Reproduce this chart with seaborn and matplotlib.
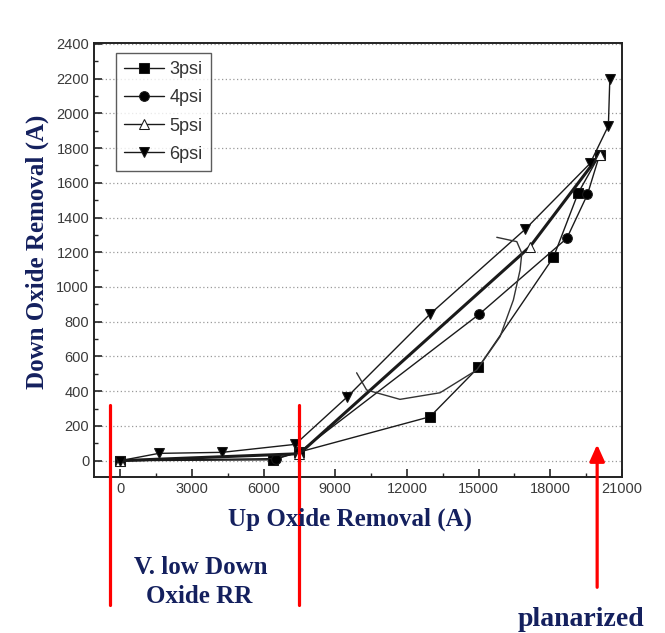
import numpy as np
import pandas as pd
import matplotlib
matplotlib.use("Agg")
import matplotlib.pyplot as plt
import seaborn as sns

# values (Angstrom)
x_3psi = [0, 6400, 7500, 12965, 14990, 18130, 19165, 20060]
y_3psi = [0, 5, 50, 253, 537, 1171, 1541, 1760]

x_4psi = [0, 6500, 7500, 15030, 18690, 19555, 20060]
y_4psi = [0, 12, 50, 844, 1280, 1533, 1760]

x_5psi = [0, 7500, 17150, 20060]
y_5psi = [0, 40, 1232, 1761]

x_6psi = [0, 1610, 4270, 7325, 9474, 12965, 16945, 19667, 20430, 20490]
y_6psi = [0, 42, 48, 94, 364, 844, 1332, 1712, 1928, 2197]

# hand drawn loop on the scan
loop_x = [9892, 10311, 11707, 13383, 14920, 15896, 16453, 16734, 16806, 16597, 15759]
loop_y = [506, 407, 353, 391, 522, 714, 925, 1098, 1194, 1261, 1286]

labels = ["3psi", "4psi", "5psi", "6psi"]
xticks = [0, 3000, 6000, 9000, 12000, 15000, 18000, 21000]
yticks = list(range(0, 2401, 200))

# red annotation marks (data coords, drawn outside axes)
red_x = [-410, 7475]
red_y = [320, -832]
arrow_x = 19960
arrow_y = [-745, 109]

navy = "#14205e"

sns.set_style("ticks")
plt.rcParams["font.family"] = ["Liberation Sans", "DejaVu Sans"]

fig = plt.figure(figsize=(6.65, 6.33), dpi=100)
ax = fig.add_axes([94 / 665, 1 - 477 / 633, (622 - 94) / 665, (477 - 42.6) / 633])

series = [
    (x_3psi, y_3psi, "s", "k", 1.0),
    (x_4psi, y_4psi, "o", "k", 1.0),
    (x_5psi, y_5psi, "^", "white", 2.2),
    (x_6psi, y_6psi, "v", "k", 1.0),
]
for (xs, ys, mk, fc, lw), lab in zip(series, labels):
    sns.lineplot(x=xs, y=ys, ax=ax, sort=False, estimator=None, color="#1a1a1a",
                 marker=mk, markersize=7, markerfacecolor=fc,
                 markeredgecolor="#1a1a1a", linewidth=lw, label=lab)

sns.lineplot(x=loop_x, y=loop_y, ax=ax, sort=False, estimator=None, color="#333333",
             linewidth=1.0, legend=False)

ax.set_xlim(-1100, 21000)
ax.set_ylim(-94, 2407)
ax.set_xticks(xticks)
ax.set_yticks(yticks)
ax.set_xticks([1500, 4500, 7500, 10500, 13500, 16500, 19500], minor=True)
ax.set_yticks(list(range(100, 2400, 200)), minor=True)
ax.tick_params(axis="both", which="major", direction="in", length=6, width=1.2,
               labelsize=10.5, labelcolor="#3a3a3a")
ax.tick_params(axis="both", which="minor", direction="in", length=3, width=1.0)
ax.grid(axis="y", which="major", linestyle=(0, (1, 2)), color="#9a9a9a", linewidth=0.9)
for sp in ax.spines.values():
    sp.set_visible(True)
    sp.set_linewidth(1.4)
    sp.set_color("#222222")
ax.set_xlabel("")
ax.set_ylabel("")

leg = ax.legend(loc="upper left", bbox_to_anchor=(0.042, 0.976), borderaxespad=0,
                fontsize=13, frameon=True, fancybox=False, handlelength=2.2,
                handletextpad=0.3, labelspacing=0.62, borderpad=0.45,
                labelcolor="#333333")
leg.get_frame().set_edgecolor("#333333")
leg.get_frame().set_linewidth(1.0)
for ln in leg.get_lines():
    ln.set_linewidth(1.0)

# red annotations
for rx in red_x:
    ax.plot([rx, rx], red_y, color="red", linewidth=2.3, clip_on=False, zorder=6)
ax.annotate("", xy=(arrow_x, arrow_y[1]), xytext=(arrow_x, arrow_y[0]),
            arrowprops=dict(arrowstyle="-|>,head_width=0.45,head_length=1.0",
                            color="red", linewidth=2.3),
            annotation_clip=False, zorder=6)

serif = ["Liberation Serif", "DejaVu Serif"]
fig.text(0.056, 0.6025, "Down Oxide Removal (A)", rotation=90, ha="center", va="center",
         fontsize=18, fontweight="bold", color=navy, family=serif)
fig.text(0.526, 0.179, "Up Oxide Removal (A)", ha="center", va="center",
         fontsize=18, fontweight="bold", color=navy, family=serif)
fig.text(0.302, 0.104, "V. low Down", ha="center", va="center",
         fontsize=18, fontweight="bold", color=navy, family=serif)
fig.text(0.299, 0.057, "Oxide RR", ha="center", va="center",
         fontsize=18, fontweight="bold", color=navy, family=serif)
fig.text(0.874, 0.022, "planarized", ha="center", va="center",
         fontsize=20, fontweight="bold", color=navy, family=serif)

fig.savefig("out.png", dpi=100)
